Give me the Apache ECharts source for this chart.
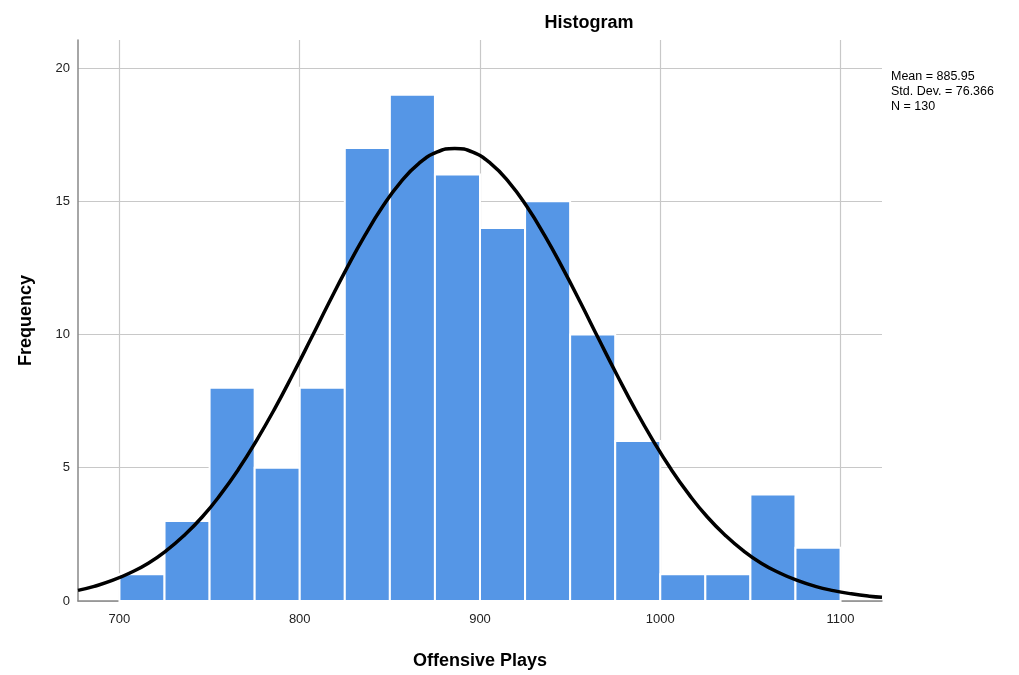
<!DOCTYPE html>
<html>
<head>
<meta charset="utf-8">
<script src="https://cdn.jsdelivr.net/npm/echarts@6/dist/echarts.min.js"></script>
<style>
  html, body { margin: 0; padding: 0; background: #fff; }
  #chart { width: 1019px; height: 675px; }
</style>
</head>
<body>
<div id="chart"></div>
<script>
// bin edges (width 25) and counts
var binStart = [700, 725, 750, 775, 800, 825, 850, 875, 900, 925, 950, 975, 1000, 1025, 1050, 1075];
var binCount = [1, 3, 8, 5, 8, 17, 19, 16, 14, 15, 10, 6, 1, 1, 4, 2];
var binWidth = 25;

// points along the black normal curve (every 10 from the peak at 886)
var curveX = [677, 686, 696, 706, 716, 726, 736, 746, 756, 766, 776, 786, 796, 806, 816, 826, 836, 846, 856, 866, 876, 886,
              896, 906, 916, 926, 936, 946, 956, 966, 976, 986, 996, 1006, 1016, 1026, 1036, 1046, 1056, 1066, 1076, 1086, 1096, 1106, 1116, 1123];
var curveY = [0.40, 0.55, 0.77, 1.06, 1.42, 1.89, 2.47, 3.16, 3.99, 4.94, 6.02, 7.20, 8.48, 9.81, 11.16, 12.47, 13.70, 14.80, 15.72, 16.41, 16.84, 16.98,
              16.84, 16.41, 15.72, 14.80, 13.70, 12.47, 11.16, 9.81, 8.48, 7.20, 6.02, 4.94, 3.99, 3.16, 2.47, 1.89, 1.42, 1.06, 0.77, 0.55, 0.39, 0.27, 0.18, 0.14];

var xTicks = [700, 800, 900, 1000, 1100];
var yTicks = [0, 5, 10, 15, 20];
var statLines = ['Mean = 885.95', 'Std. Dev. = 76.366', 'N = 130'];

var bars = binStart.map(function (s, i) { return [s, s + binWidth, binCount[i]]; });
var curve = curveX.map(function (x, i) { return [x, curveY[i]]; });

var chart = echarts.init(document.getElementById('chart'));

chart.setOption({
    animation: false,
    title: {
        text: 'Histogram',
        left: 584,
        top: 9,
        textAlign: 'center',
        textStyle: { fontFamily: 'Arial, Liberation Sans', fontSize: 18, fontWeight: 'bold', color: '#000' }
    },
    grid: { left: 78, right: 137, top: 40, bottom: 72 },
    xAxis: {
        type: 'value',
        min: 677,
        max: 1123,
        name: 'Offensive Plays',
        nameLocation: 'middle',
        nameGap: 51,
        nameTextStyle: { fontFamily: 'Arial, Liberation Sans', fontSize: 18, fontWeight: 'bold', color: '#000' },
        axisLine: { lineStyle: { color: '#888', width: 1.5 } },
        axisTick: { show: false, customValues: xTicks },
        axisLabel: {
            customValues: xTicks, margin: 12,
            formatter: function (v) { return String(v); },
            fontFamily: 'Arial, Liberation Sans', fontSize: 13, color: '#222'
        },
        splitLine: { show: true, lineStyle: { color: '#c8c8c8', width: 1.2 } }
    },
    yAxis: {
        type: 'value',
        min: 0,
        max: 21.05,
        name: 'Frequency',
        nameLocation: 'middle',
        nameGap: 43,
        nameTextStyle: { fontFamily: 'Arial, Liberation Sans', fontSize: 18, fontWeight: 'bold', color: '#000' },
        axisLine: { show: true, lineStyle: { color: '#888', width: 1.5 } },
        axisTick: { show: false, customValues: yTicks },
        axisLabel: { customValues: yTicks, margin: 8, fontFamily: 'Arial, Liberation Sans', fontSize: 13, color: '#222' },
        splitLine: { show: true, lineStyle: { color: '#c8c8c8', width: 1.2 } }
    },
    graphic: statLines.map(function (t, i) {
        return {
            type: 'text',
            left: 891,
            top: 70 + i * 15,
            style: { text: t, fontFamily: 'Arial, Liberation Sans', fontSize: 12.5, fill: '#000' }
        };
    }),
    series: [
        {
            type: 'custom',
            data: bars,
            encode: { x: [0, 1], y: 2 },
            renderItem: function (params, api) {
                var p0 = api.coord([api.value(0), api.value(2)]);
                var p1 = api.coord([api.value(1), 0]);
                return {
                    type: 'rect',
                    shape: { x: p0[0], y: p0[1], width: p1[0] - p0[0], height: p1[1] - p0[1] },
                    style: { fill: '#5596e6', stroke: '#fff', lineWidth: 2 }
                };
            },
            z: 2
        },
        {
            type: 'line',
            data: curve,
            smooth: true,
            symbol: 'none',
            lineStyle: { color: '#000', width: 3.5 },
            z: 3
        }
    ]
});
</script>
</body>
</html>
